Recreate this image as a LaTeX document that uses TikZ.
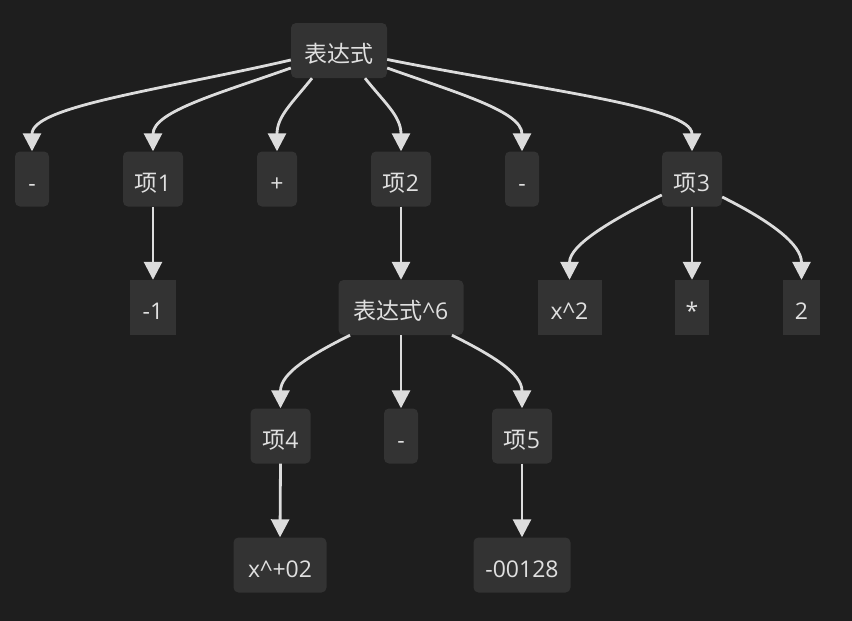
\documentclass[tikz,border=0pt]{standalone}
\usepackage{fontspec}
\setmainfont{Open Sans}
\newfontfamily\cjk{Noto Sans CJK SC}
\usetikzlibrary{arrows.meta}
\definecolor{bg}{HTML}{1E1E1E}
\definecolor{nodefill}{HTML}{333333}
\definecolor{edgecol}{HTML}{DCDCDC}
\definecolor{txt}{HTML}{E0E0E0}
\tikzset{
  box/.style={fill=nodefill, rounded corners=5pt, inner sep=0pt, text=txt,
    font=\fontsize{23}{27}\selectfont, minimum height=55pt,
    text height=24pt, text depth=0pt},
  sqbox/.style={box, sharp corners},
  link/.style={draw=edgecol, line width=2.8pt, -{Triangle[width=18pt,length=18pt]}},
}
\begin{document}
\begin{tikzpicture}[x=1pt,y=-1pt]
\fill[bg] (0,0) rectangle (852,621);
\useasboundingbox (0,0) rectangle (852,621);
% nodes
\node[box, minimum width=96pt] (root) at (339,50.5) {\cjk 表达式};
\node[box, minimum width=34pt] (m1) at (32,179) {-};
\node[box, minimum width=60pt] (t1) at (153,179) {{\cjk 项}1};
\node[box, minimum width=40pt] (plus) at (277,179) {+};
\node[box, minimum width=60pt] (t2) at (401,179) {{\cjk 项}2};
\node[box, minimum width=34pt] (m2) at (522,179) {-};
\node[box, minimum width=60pt] (t3) at (692,179) {{\cjk 项}3};
\node[sqbox, minimum width=46pt] (n1) at (153,307.5) {-1};
\node[box, minimum width=125pt] (p6) at (401,307.5) {{\cjk 表达式}\textasciicircum 6};
\node[sqbox, minimum width=64pt] (x2) at (569.5,307.5) {x\textasciicircum 2};
\node[sqbox, minimum width=34pt] (star) at (692,307.5) {*};
\node[sqbox, minimum width=37pt] (two) at (801.5,307.5) {2};
\node[box, minimum width=60pt] (t4) at (280.5,436) {{\cjk 项}4};
\node[box, minimum width=34pt] (m3) at (401,436) {-};
\node[box, minimum width=60pt] (t5) at (522,436) {{\cjk 项}5};
\node[box, minimum width=93pt] (xp) at (280,565) {x\textasciicircum +02};
\node[box, minimum width=97pt] (num) at (522,565) {-00128};
% edges
\draw[link] ([yshift=-9.5pt]root.west) .. controls +(-130,30) and +(0,-45) .. (m1.north);
\draw[link] ([yshift=-17.5pt]root.west) .. controls +(-70,25) and +(0,-40) .. (t1.north);
\draw[link] ([xshift=-27pt]root.south) .. controls +(-20,25) and +(0,-35) .. (plus.north);
\draw[link] ([xshift=26pt]root.south) .. controls +(20,25) and +(0,-35) .. (t2.north);
\draw[link] ([yshift=-17.5pt]root.east) .. controls +(70,25) and +(0,-40) .. (m2.north);
\draw[link] ([yshift=-9pt]root.east) .. controls +(150,30) and +(0,-45) .. (t3.north);
\draw[link] (t1.south) -- (n1.north);
\draw[link] (t2.south) -- (p6.north);
\draw[link] ([yshift=-16pt]t3.west) .. controls +(-50,25) and +(0,-35) .. (x2.north);
\draw[link] (t3.south) -- (star.north);
\draw[link] ([yshift=-18pt]t3.east) .. controls +(50,25) and +(0,-35) .. (two.north);
\draw[link] ([xshift=-51pt]p6.south) .. controls +(-40,20) and +(0,-35) .. (t4.north);
\draw[link] (p6.south) -- (m3.north);
\draw[link] ([xshift=51pt]p6.south) .. controls +(40,20) and +(0,-35) .. (t5.north);
\draw[link] (t4.south) -- (xp.north);
\draw[link] (t5.south) -- (num.north);
\end{tikzpicture}
\end{document}
